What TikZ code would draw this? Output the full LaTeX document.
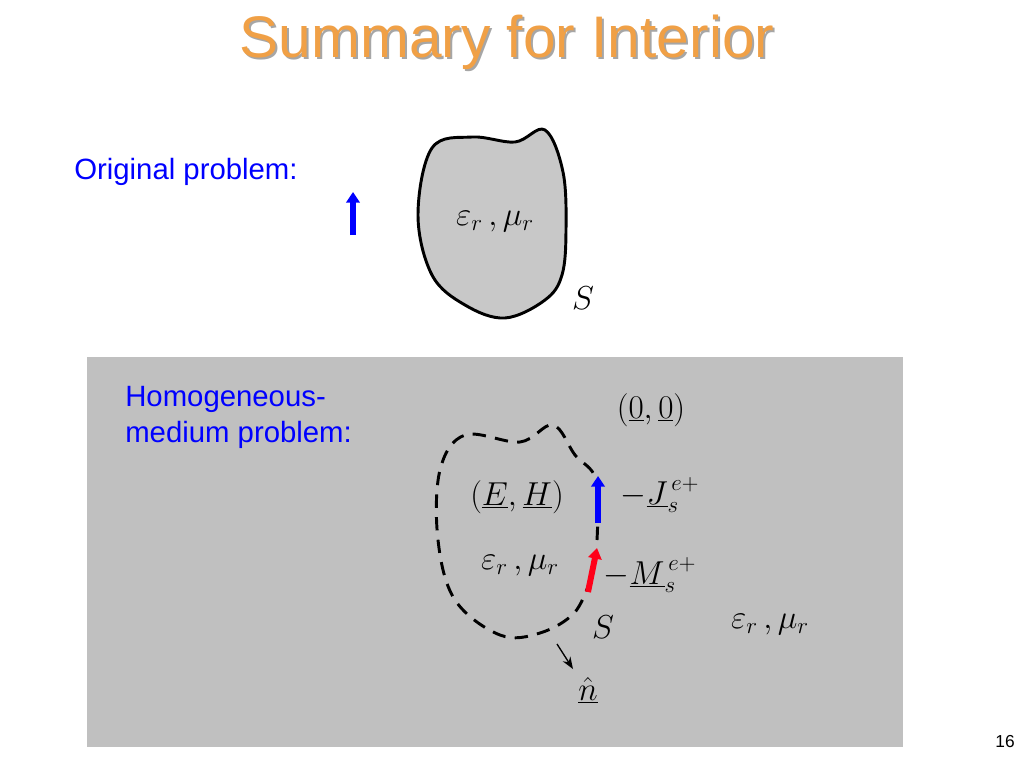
\documentclass[tikz,border=0pt]{standalone}
\usepackage{fontspec}
\setsansfont{Liberation Sans}
\usetikzlibrary{arrows.meta}
\definecolor{titleorange}{RGB}{240,160,70}
\definecolor{bgray}{RGB}{192,192,192}
\definecolor{fgray}{RGB}{200,200,200}
\newcommand{\ul}[1]{\underline{#1}}
\begin{document}
\begin{tikzpicture}[
  x=0.75pt,y=-0.75pt,
  label/.style={font=\sffamily\fontsize{22}{27}\selectfont,text=blue,align=left,anchor=north west,inner sep=0pt},
  mathtxt/.style={font=\fontsize{26}{30}\selectfont},
  src/.style={line width=4.5pt,-{Triangle[length=8pt,width=10pt]}}
  ]
  \useasboundingbox (0,0) rectangle (1024,768);

  % title
  \node (shadow) [font=\sffamily\fontsize{44}{50}\selectfont,text=gray!70] at (509,44) {Summary for Interior};
  \node (title) [font=\sffamily\fontsize{44}{50}\selectfont,text=titleorange] at (507,42) {Summary for Interior};

  % original problem
  \node (orig) [label] at (74,158) {Original problem:};
  \draw [fill=fgray,line width=2.2pt] plot[smooth cycle,tension=0.6] coordinates {
    (432,148) (472,137) (515,142) (545,130) (563,172) (566,230) (562,275)
    (545,300) (505,318) (465,305) (432,275) (418,215)};
  \coordinate (a1) at (353,235);
  \coordinate (a2) at (353,192);
  \draw [src,blue] (a1) -- (a2);
  \node (epsmu1) [mathtxt] at (495,222) {$\varepsilon_r\,,\mu_r$};
  \node (s1) [mathtxt] at (583,298) {$S$};

  % homogeneous problem
  \fill [bgray] (87,357) rectangle (903,747);
  \node (homog) [label] at (125,386) {Homogeneous-\\medium problem:};
  \node (zero) [mathtxt] at (651,410) {$\bigl(\ul{0},\ul{0}\bigr)$};
  \draw [dashed,dash pattern=on 10pt off 7pt,line width=2.2pt]
    plot[smooth,tension=0.6] coordinates {
    (597,540) (596,480) (575,455) (553,425) (520,442) (465,435) (440,470)
    (438,540) (455,600) (500,635) (540,633) (575,612) (592,575)};
  \node (eh) [mathtxt] at (517,497) {$\bigl(\ul{E},\ul{H}\bigr)$};
  \coordinate (b1) at (598,523);
  \coordinate (b2) at (598,476);
  \draw [src,blue] (b1) -- (b2);
  \node (js) [mathtxt] at (660,495) {$-\ul{J}_{s}^{\,e+}$};
  \coordinate (r1) at (588,592);
  \coordinate (r2) at (597,548);
  \draw [src,red!90!magenta] (r1) -- (r2);
  \node (epsmu2) [mathtxt] at (520,566) {$\varepsilon_r\,,\mu_r$};
  \node (ms) [mathtxt] at (650,575) {$-\ul{M}_{s}^{\,e+}$};
  \node (s2) [mathtxt] at (603,627) {$S$};
  \node (epsmu3) [mathtxt] at (770,625) {$\varepsilon_r\,,\mu_r$};
  \coordinate (n1) at (557,644);
  \node (nhat) [mathtxt] at (588,690) {$\ul{\hat{n}}$};
  \draw [line width=1pt,-{Stealth[length=9pt]}] (n1) -- (573,669);

  \node (page) [font=\sffamily\fontsize{13}{15}\selectfont] at (1005,742) {16};
\end{tikzpicture}
\end{document}
